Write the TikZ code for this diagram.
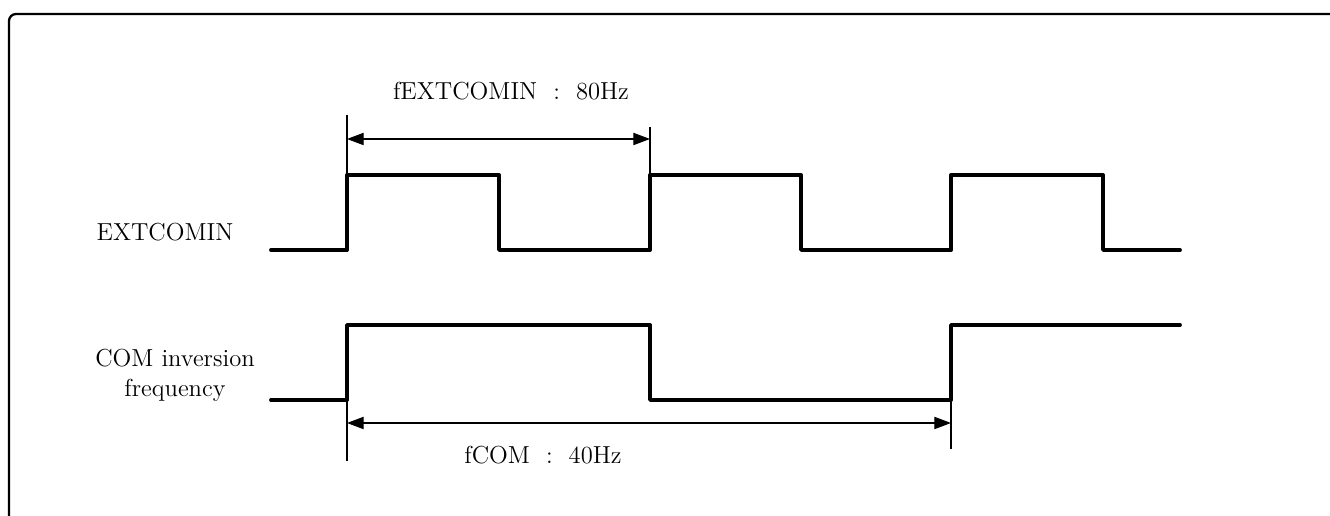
\documentclass[tikz,border=0pt]{standalone}
\usepackage{tikz}
\usetikzlibrary{arrows.meta}

\tikzset{
  sig/.style={line width=2.2pt,line join=round,line cap=round},
  dim/.style={line width=0.6pt,{Triangle[length=9.5pt,width=7pt]}-{Triangle[length=9.5pt,width=7pt]}},
  tick/.style={line width=0.6pt},
  lbl/.style={font=\fontsize{14}{17}\selectfont,align=center}
}

\begin{document}
\begin{tikzpicture}[x=0.02cm,y=-0.02cm]
\useasboundingbox (0,0) rectangle (1330,516);
\clip (0,0) rectangle (1330,516);
% outer frame
\draw[line width=1.3pt,rounded corners=4pt] (9,14) rectangle (1350,560);

% signal names
\node[lbl] (extname) at (165,232) {EXTCOMIN};
\node[lbl] (comname) at (175,375) {COM inversion\\frequency};

% EXTCOMIN waveform
\draw[sig] (271,250) -- (347,250) -- (347,175) -- (499,175) -- (499,250)
  -- (650,250) -- (650,175) -- (801,175) -- (801,250) -- (951,250)
  -- (951,175) -- (1103,175) -- (1103,250) -- (1180,250);

% COM waveform
\draw[sig] (271,400) -- (347,400) -- (347,325) -- (650,325) -- (650,400)
  -- (951,400) -- (951,325) -- (1180,325);

% fEXTCOMIN period
\coordinate (t1a) at (347,115);
\coordinate (t1b) at (347,175);
\coordinate (t2a) at (650,127);
\coordinate (t2b) at (650,175);
\draw[tick] (t1a) -- (t1b);
\draw[tick] (t2a) -- (t2b);
\coordinate (d1a) at (347,139);
\coordinate (d1b) at (650,139);
\draw[dim] (d1a) -- (d1b);
\node[lbl] (fext) at (511,91) {fEXTCOMIN\ \ :\ \ 80Hz};

% fCOM period
\coordinate (t3a) at (347,400);
\coordinate (t3b) at (347,461);
\coordinate (t4a) at (951,400);
\coordinate (t4b) at (951,449);
\draw[tick] (t3a) -- (t3b);
\draw[tick] (t4a) -- (t4b);
\coordinate (d2a) at (347,423);
\coordinate (d2b) at (951,423);
\draw[dim] (d2a) -- (d2b);
\node[lbl] (fcom) at (543,455) {fCOM\ \ :\ \ 40Hz};
\end{tikzpicture}
\end{document}
